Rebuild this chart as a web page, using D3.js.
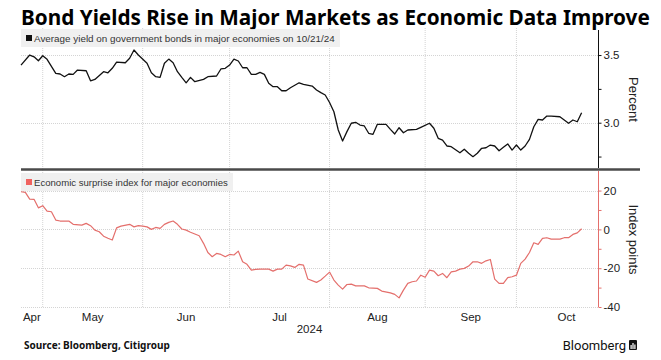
<!DOCTYPE html>
<html><head><meta charset="utf-8">
<script src="https://cdn.jsdelivr.net/npm/d3@7"></script>
<style>
html,body{margin:0;padding:0;background:#fff;}
svg{display:block;}
text{font-family:"Liberation Sans","Roboto","Noto Sans",sans-serif;}
</style></head>
<body><svg id="c" width="661" height="360"></svg>
<script>
// ---- data (x = trading-day index from Apr 24, 2024) ----
const titleText = "Bond Yields Rise in Major Markets as Economic Data Improve";
const yieldLabel = "Average yield on government bonds in major economies on 10/21/24";
const surpriseLabel = "Economic surprise index for major economies";
const monthLabels = ["Apr","May","Jun","Jul","Aug","Sep","Oct"];
const monthStarts = [0,5,28,48,71,93,114,137];
const yearLabel = "2024";
const yieldTicks = [2.75,3.0,3.25,3.5];
const yieldTickLabels = ["","3.0","","3.5"];
const surpriseTicks = [-40,-30,-20,-10,0,10,20];
const surpriseTickLabels = ["-40","","-20","","0","","20"];

const yieldDays = [0,2,3,4,5,6,8,9,10,11,12,13,15,16,17,19,20,21,22,24,25,26,27,29,30,31,32,33,34,35,36,37,38,39,40,42,43,45,46,47,48,49,50,51,52,53,54,55,56,57,58,59,60,61,62,64,65,67,68,69,70,71,72,73,74,75,76,77,78,79,80,81,82,84,85,86,87,88,89,91,92,94,95,96,97,98,99,101,102,103,104,105,106,107,108,109,110,111,112,113,114,115,116,117,118,119,120,121,122,124,125,126,127,128,129];
const yieldValues = [3.426,3.50,3.487,3.458,3.495,3.468,3.365,3.36,3.34,3.36,3.357,3.389,3.384,3.31,3.32,3.377,3.369,3.402,3.448,3.443,3.476,3.537,3.50,3.439,3.369,3.34,3.335,3.439,3.47,3.443,3.377,3.335,3.295,3.335,3.303,3.32,3.34,3.345,3.397,3.402,3.426,3.47,3.456,3.406,3.406,3.357,3.357,3.372,3.357,3.291,3.266,3.266,3.236,3.236,3.258,3.295,3.284,3.271,3.242,3.222,3.205,3.149,3.081,2.946,2.865,2.934,2.996,3.003,2.983,2.976,2.922,2.914,2.988,2.988,2.951,2.917,2.963,2.926,2.946,2.951,2.966,2.996,2.959,2.885,2.872,2.828,2.823,2.778,2.804,2.774,2.749,2.774,2.811,2.815,2.835,2.828,2.793,2.818,2.843,2.798,2.835,2.798,2.828,2.877,2.97,3.025,3.02,3.049,3.049,3.044,3.02,2.996,3.02,3.007,3.074];

const surpriseDays = [0,1,2,3,4,5,6,7,8,9,11,12,14,15,16,17,18,19,20,21,22,23,25,26,27,28,29,30,31,32,33,34,35,36,37,38,39,40,41,42,43,44,45,46,47,48,49,50,51,52,53,54,55,57,58,59,60,61,62,63,64,65,66,68,69,70,71,72,73,74,75,76,77,79,80,82,83,85,86,87,88,89,90,91,92,93,94,95,96,97,98,99,100,101,102,103,104,105,106,107,108,109,110,111,112,113,114,115,116,117,118,119,120,121,122,124,125,126,127,128,129];
const surpriseValues = [19.4,19.1,15.6,15.5,11.1,12.2,9.4,9.1,4.8,4.3,4.3,2.6,2.2,3.1,1.9,-0.4,-1.2,-3.5,-4.6,-5.5,0.8,1.7,2.6,1.3,1.9,1.7,1.3,0,1.0,0.5,2.6,3.6,4.3,2.6,0.2,-0.4,-1.5,-2.4,-3.3,-7.2,-11.9,-14.1,-12.4,-12.9,-14.1,-12.9,-13.2,-11.2,-16.7,-18.0,-21.0,-20.6,-20.5,-20.5,-21.5,-20.5,-20.5,-18.4,-18.8,-19.6,-18.0,-18.4,-25.6,-27.3,-26.1,-24.1,-22.0,-26.1,-28.7,-30.8,-28.4,-28.2,-29.1,-29.1,-30.1,-30.4,-31.8,-32.7,-33.5,-35.3,-31.3,-27.8,-27.0,-26.6,-23.6,-24.7,-21.0,-21.5,-23.9,-22.7,-24.9,-21.9,-21.5,-20.5,-20.1,-18.9,-16.7,-16.7,-17.5,-16.2,-15.5,-25.6,-27.8,-27.8,-24.9,-24.4,-23.6,-17.5,-15.3,-11.9,-6.9,-7.7,-4.6,-4.3,-5.0,-5.0,-4.3,-4.3,-2.6,-1.8,0.3];

// ---- layout ----
const L = 21, R = 598;
const topY0 = 30, topY1 = 169, botY0 = 170, botY1 = 307;
const red = "#e46f6c";
const svg = d3.select("#c");

const x = d3.scaleLinear().domain([0, 132.77]).range([L, R]);
const yTop = d3.scaleLinear().domain([2.658, 3.685]).range([topY1, topY0]);
const yBot = d3.scaleLinear().domain([-40, 30.6]).range([botY1, botY0]);

// title
const title = svg.append("text").attr("x", L).attr("y", 25)
  .style("font-family", "'Noto Sans', 'Open Sans', sans-serif")
  .attr("font-weight", 700).attr("font-size", 19).attr("fill", "#000").text(titleText);
{
  const w = title.node().getComputedTextLength();
  title.attr("font-size", 19 * 629 / w);
}

// vertical gridlines (month boundaries)
svg.append("g").selectAll("line").data(monthStarts.slice(1, -1)).join("line")
  .attr("x1", d => x(d)).attr("x2", d => x(d))
  .attr("y1", topY0 - 2).attr("y2", botY1)
  .attr("stroke", "#d4d4d4").attr("stroke-width", 1).attr("stroke-dasharray", "1,1");

// horizontal gridlines
svg.append("g").selectAll("line").data([3.0, 3.5]).join("line")
  .attr("x1", L).attr("x2", R).attr("y1", d => Math.round(yTop(d)) + 0.5).attr("y2", d => Math.round(yTop(d)) + 0.5)
  .attr("stroke", "#d4d4d4").attr("stroke-dasharray", "1,1");
svg.append("g").selectAll("line").data([-40, -20, 0, 20]).join("line")
  .attr("x1", L).attr("x2", R).attr("y1", d => Math.round(yBot(d)) + 0.5).attr("y2", d => Math.round(yBot(d)) + 0.5)
  .attr("stroke", "#d4d4d4").attr("stroke-dasharray", "1,1");

// legends
function legend(y, w, color, label) {
  const g = svg.append("g");
  g.append("rect").attr("x", L).attr("y", y).attr("width", w).attr("height", 18)
    .attr("fill", "#efefef").attr("fill-opacity", 0.92);
  g.append("rect").attr("x", L + 5).attr("y", y + 6).attr("width", 6).attr("height", 6).attr("fill", color);
  const t = g.append("text").attr("x", L + 13).attr("y", y + 12.5).attr("font-size", 10.5)
    .style("font-family", "'Liberation Sans Narrow', 'Liberation Sans', sans-serif")
    .attr("fill", "#333").text(label);
  return t;
}
const lt1 = legend(29, 319, "#111", yieldLabel);
const lt2 = legend(173, 212, "#f0625f", surpriseLabel);
[[lt1, 301], [lt2, 194]].forEach(([t, w]) => {
  const cw = t.node().getComputedTextLength();
  t.attr("font-size", 10.5 * w / cw);
});

// lines
const yieldPts = yieldDays.map((d, i) => [d, yieldValues[i]]);
const surprisePts = surpriseDays.map((d, i) => [d, surpriseValues[i]]);
svg.append("path").datum(yieldPts)
  .attr("d", d3.line().x(d => x(d[0])).y(d => yTop(d[1])))
  .attr("fill", "none").attr("stroke", "#111").attr("stroke-width", 1.3).attr("stroke-linejoin", "round");
svg.append("path").datum(surprisePts)
  .attr("d", d3.line().x(d => x(d[0])).y(d => yBot(d[1])))
  .attr("fill", "none").attr("stroke", red).attr("stroke-width", 1.2).attr("stroke-linejoin", "round");

// separator
svg.append("line").attr("x1", L).attr("x2", 640).attr("y1", 169.5).attr("y2", 169.5)
  .attr("stroke", "#4a4a4a").attr("stroke-width", 2.5);

// right axes
const axTop = d3.axisRight(yTop).tickValues(yieldTicks).tickSize(3).tickPadding(2)
  .tickFormat((d, i) => yieldTickLabels[i]);
const gTop = svg.append("g").attr("transform", `translate(${R + 0.5},0)`).call(axTop);
gTop.select(".domain").attr("d", `M0,${topY0}V${topY1 - 1}`).attr("stroke", "#111");
gTop.selectAll(".tick line").attr("stroke", "#111");
gTop.selectAll(".tick text").attr("font-size", 11.5).attr("fill", "#222")
  .style("font-family", "'Liberation Sans', Roboto, sans-serif");

const axBot = d3.axisRight(yBot).tickValues(surpriseTicks).tickSize(3).tickPadding(2)
  .tickFormat((d, i) => surpriseTickLabels[i]);
const gBot = svg.append("g").attr("transform", `translate(${R + 0.5},0)`).call(axBot);
gBot.select(".domain").attr("d", `M0,${botY0 + 1}V${botY1}`).attr("stroke", red);
gBot.selectAll(".tick line").attr("stroke", red);
gBot.selectAll(".tick text").attr("font-size", 11.5).attr("fill", "#222")
  .style("font-family", "'Liberation Sans', Roboto, sans-serif");

// axis titles
svg.append("text").attr("transform", `translate(629,${(topY0 + topY1) / 2}) rotate(90)`)
  .attr("text-anchor", "middle").attr("font-size", 13).attr("fill", "#222").text("Percent");
svg.append("text").attr("transform", `translate(629,${(botY0 + botY1) / 2 + 1}) rotate(90)`)
  .attr("text-anchor", "middle").attr("font-size", 13).attr("fill", "#222").text("Index points");

// x labels
const monthMid = monthLabels.map((m, i) => (monthStarts[i] + monthStarts[i + 1]) / 2);
svg.append("g").selectAll("text").data(monthLabels).join("text")
  .attr("x", (d, i) => x(monthMid[i])).attr("y", 321).attr("text-anchor", "middle")
  .attr("font-size", 11.5).attr("fill", "#222").text(d => d);
svg.append("text").attr("x", (L + R) / 2).attr("y", 333).attr("text-anchor", "middle")
  .attr("font-size", 11.5).attr("fill", "#222").text(yearLabel);

// footer
svg.append("text").attr("x", 24).attr("y", 349).attr("font-size", 10).attr("font-weight", 700)
  .style("font-family", "'Noto Sans', 'Open Sans', sans-serif")
  .attr("fill", "#111").text("Source: Bloomberg, Citigroup");
const bl = svg.append("text").attr("x", 626).attr("y", 350).attr("text-anchor", "end")
  .attr("font-size", 13).attr("fill", "#111")
  .style("font-family", "Roboto, 'Noto Sans', sans-serif").text("Bloomberg");
const ig = svg.append("g").attr("transform", "translate(629,340)");
ig.append("rect").attr("width", 8).attr("height", 10).attr("rx", 1).attr("fill", "#111");
[[1.5,5,1.2,4],[3.4,3,1.2,6],[5.3,4.5,1.2,4.5]].forEach(b =>
  ig.append("rect").attr("x", b[0]).attr("y", b[1]).attr("width", b[2]).attr("height", b[3]).attr("fill", "#fff"));
</script></body></html>
